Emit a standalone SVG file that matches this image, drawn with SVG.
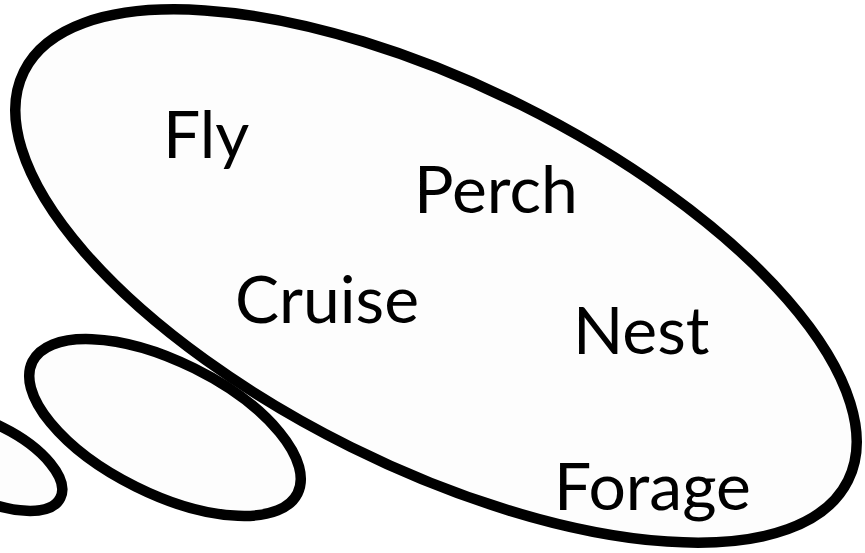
<svg xmlns="http://www.w3.org/2000/svg" width="865" height="553" viewBox="0 0 865 553">
<style>
.bub{fill:#fdfdfd;stroke:#000;stroke-width:10.5}
.lbl{font-family:Lato,"Open Sans","Liberation Sans",sans-serif;font-size:66px;fill:#000}
</style>
<rect width="865" height="553" fill="#fff"/>
<g id="bubble-small"><ellipse class="bub" cx="-14" cy="461" rx="83" ry="37.5" transform="rotate(26.4 -14 461)"/></g>
<g id="bubble-medium"><ellipse class="bub" cx="165" cy="427.5" rx="148" ry="66" transform="rotate(26.4 165 427.5)"/></g>
<g id="bubble-main"><ellipse class="bub" cx="436" cy="276" rx="460" ry="191" transform="rotate(26.4 436 276)"/></g>
<g id="connectors"></g>
<g id="label-fly"><text class="lbl" x="163" y="158">Fly</text></g>
<g id="label-perch"><text class="lbl" x="414" y="213">Perch</text></g>
<g id="label-cruise"><text class="lbl" x="235" y="323">Cruise</text></g>
<g id="label-nest"><text class="lbl" x="573" y="354">Nest</text></g>
<g id="label-forage"><text class="lbl" x="554" y="510">Forage</text></g>
</svg>
